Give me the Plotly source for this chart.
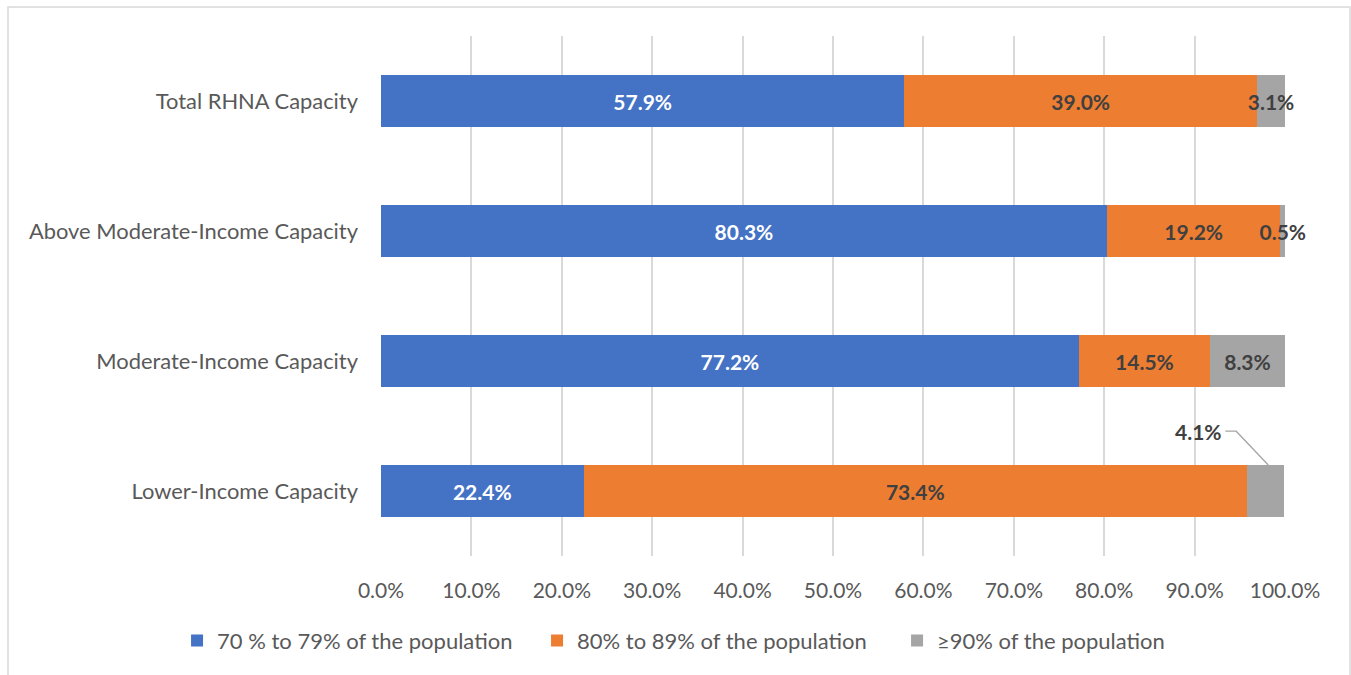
import plotly.graph_objects as go

categories = ["Lower-Income Capacity", "Moderate-Income Capacity",
              "Above Moderate-Income Capacity", "Total RHNA Capacity"]
series_names = ["70 % to 79% of the population", "80% to 89% of the population",
                "\u226590% of the population"]
pct_70_79 = [22.4, 77.2, 80.3, 57.9]
pct_80_89 = [73.4, 14.5, 19.2, 39.0]
pct_90_up = [4.1, 8.3, 0.5, 3.1]
tick_vals = [0, 10, 20, 30, 40, 50, 60, 70, 80, 90, 100]

colors = ["#4472C4", "#ED7D31", "#A5A5A5"]
label_colors = ["#FFFFFF", "#404040", "#404040"]
FONT = "Lato"
FS = 21

fig = go.Figure()
all_series = [pct_70_79, pct_80_89, pct_90_up]
for i, (name, vals) in enumerate(zip(series_names, all_series)):
    texts = [f"{v:.1f}%" for v in vals]
    if i == 2:
        texts[0] = ""  # shown with a leader line instead
    fig.add_trace(go.Bar(
        y=categories, x=vals, name=name, orientation="h",
        marker=dict(color=colors[i], line=dict(width=0)),
        text=texts, textposition="inside", insidetextanchor="middle",
        textangle=0, constraintext="none", cliponaxis=False,
        textfont=dict(family=FONT, size=FS, color=label_colors[i], weight="bold"),
        hoverinfo="skip",
    ))

# leader-line label for the small gray segment of Lower-Income
lower_end = pct_70_79[0] + pct_80_89[0] + pct_90_up[0] / 2
fig.add_shape(type="path", xref="x", yref="y",
              path=f"M {lower_end + 0.3},0.2 L 94.6,0.46 L 93.4,0.46",
              line=dict(color="#A5A5A5", width=1.3))
fig.add_annotation(x=93.2, y=0.46, xref="x", yref="y", text=f"{pct_90_up[0]:.1f}%",
                   showarrow=False, xanchor="right", yanchor="middle",
                   font=dict(family=FONT, size=FS, color="#404040", weight="bold"))

# chart border
fig.add_shape(type="rect", xref="paper", yref="paper",
              x0=-0.4126, x1=1.0719, y0=-0.26, y1=1.0558,
              line=dict(color="#D9D9D9", width=1.5), layer="below")

fig.update_layout(
    width=1351, height=675,
    margin=dict(l=381, r=66, t=36, b=119),
    paper_bgcolor="white", plot_bgcolor="white",
    barmode="stack", bargap=0.6,
    font=dict(family=FONT, size=FS, color="#595959"),
    showlegend=True,
    legend=dict(orientation="h", x=-0.2256, xanchor="left", y=-0.163, yanchor="middle",
                font=dict(family=FONT, size=22, color="#595959"),
                traceorder="normal", itemclick=False,
                entrywidth=315, entrywidthmode="pixels"),
    xaxis=dict(range=[0, 100], tickvals=tick_vals,
               ticktext=[f"{v:.1f}%" for v in tick_vals],
               showgrid=True, gridcolor="#D9D9D9", gridwidth=1.5,
               zeroline=False, showline=False, ticks="", ticklabelstandoff=20,
               tickfont=dict(family=FONT, size=FS, color="#595959"), fixedrange=True),
    yaxis=dict(categoryorder="array", categoryarray=categories,
               showgrid=False, zeroline=False, showline=False, ticks="",
               ticklabelstandoff=22,
               tickfont=dict(family=FONT, size=21.9, color="#595959"), fixedrange=True),
)

fig.write_html("out.html", config={"displayModeBar": False},
               post_script="document.body.style.margin='0';document.body.style.overflow='hidden';")
